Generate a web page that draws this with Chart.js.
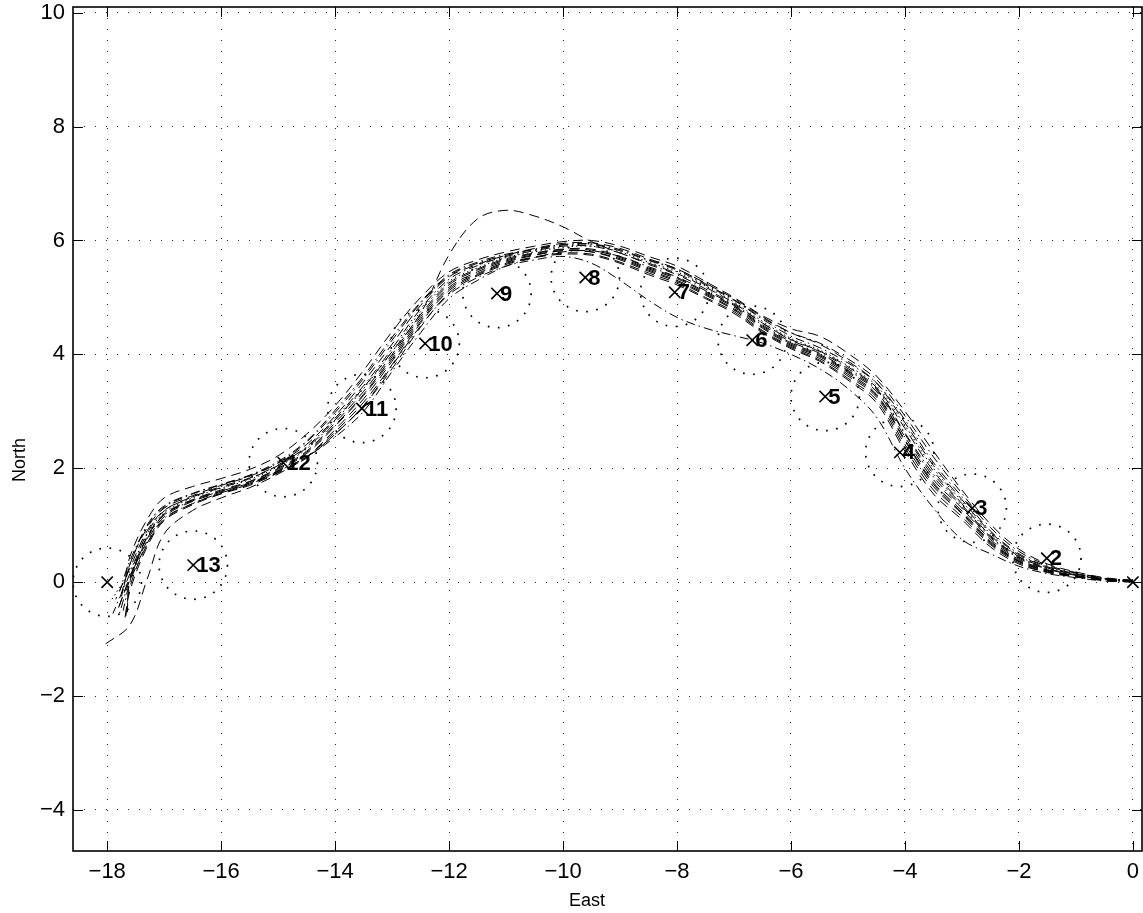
<!DOCTYPE html>
<html>
<head>
<meta charset="utf-8">
<title>East / North trajectories</title>
<script src="https://cdn.jsdelivr.net/npm/chart.js@4/dist/chart.umd.min.js"></script>
<style>
  html, body { margin: 0; padding: 0; background: #fff; overflow: hidden; }
  #wrap { position: relative; width: 1143px; height: 913px; }
</style>
</head>
<body>
<div id="wrap"><canvas id="plot"></canvas></div>
<script>
// --- data ---
const xTicks = [-18, -16, -14, -12, -10, -8, -6, -4, -2, 0];
const yTicks = [-4, -2, 0, 2, 4, 6, 8, 10];

// east positions shared by every run (last point of each run is in runEnds)
const eastGrid = [0, -0.5, -1, -1.5, -2, -2.5, -3, -3.5, -4, -4.5, -5, -5.5, -6, -6.5, -7, -7.5,
  -8, -8.5, -9, -9.5, -10, -10.5, -11, -11.5, -12, -12.5, -13, -13.5, -14, -14.5, -15, -15.5,
  -16, -16.5, -17, -17.3, -17.6];

const north01 = [0.02,0.05,0.12,0.22,0.40,0.75,1.30,1.80,2.55,3.35,3.70,4.00,4.20,4.50,4.85,5.10,5.35,5.52,5.72,5.85,5.85,5.78,5.68,5.50,5.25,4.70,4.00,3.35,2.80,2.30,2.00,1.77,1.62,1.45,1.20,0.80,0.10];
const north02 = [0.03,0.07,0.16,0.28,0.50,0.90,1.50,2.10,2.85,3.50,3.85,4.12,4.32,4.62,4.95,5.22,5.48,5.65,5.82,5.93,5.92,5.84,5.76,5.62,5.40,4.92,4.30,3.62,3.02,2.48,2.12,1.88,1.72,1.56,1.34,1.00,0.30];
const north03 = [0.01,0.03,0.09,0.17,0.32,0.62,1.10,1.55,2.30,3.15,3.55,3.88,4.10,4.38,4.72,4.98,5.22,5.40,5.60,5.74,5.76,5.70,5.58,5.38,5.08,4.48,3.75,3.10,2.60,2.18,1.92,1.70,1.55,1.36,1.08,0.62,-0.15];
const north04 = [0.02,0.06,0.14,0.25,0.45,0.82,1.38,1.95,2.70,3.42,3.78,4.06,4.26,4.55,4.90,5.18,5.42,5.60,5.78,5.98,6.24,6.43,6.53,6.38,5.75,4.72,4.05,3.42,2.85,2.36,2.05,1.82,1.66,1.50,1.26,0.90,0.25];
const north05 = [0.00,0.02,0.08,0.15,0.28,0.50,0.75,1.30,2.00,2.90,3.40,3.75,4.00,4.20,4.33,4.46,4.65,4.95,5.30,5.60,5.72,5.66,5.55,5.35,5.05,4.50,3.80,3.10,2.60,2.20,1.95,1.72,1.57,1.38,1.12,0.68,0.00];
const north06 = [0.03,0.08,0.18,0.32,0.58,1.02,1.62,2.30,3.00,3.62,4.02,4.32,4.45,4.68,5.00,5.28,5.55,5.72,5.90,6.00,5.98,5.90,5.80,5.66,5.45,5.00,4.40,3.72,3.10,2.60,2.22,1.98,1.82,1.68,1.48,1.10,0.45];
const north07 = [0.01,0.04,0.10,0.19,0.36,0.68,1.20,1.68,2.42,3.25,3.62,3.93,4.14,4.42,4.78,5.04,5.28,5.46,5.66,5.80,5.82,5.74,5.62,5.42,5.15,4.58,3.88,3.22,2.68,2.20,1.90,1.66,1.48,1.26,0.85,0.05,-0.75];
const north08 = [0.02,0.05,0.13,0.24,0.44,0.80,1.36,1.90,2.62,3.40,3.75,4.05,4.25,4.55,4.88,5.15,5.40,5.58,5.78,5.90,5.90,5.82,5.72,5.56,5.32,4.80,4.10,3.45,2.88,2.38,2.06,1.83,1.68,1.50,1.25,0.86,0.15];
const north09 = [0.01,0.04,0.11,0.20,0.37,0.70,1.22,1.72,2.48,3.28,3.65,3.96,4.16,4.46,4.80,5.06,5.30,5.48,5.68,5.80,5.82,5.75,5.64,5.45,5.18,4.62,3.92,3.28,2.74,2.26,1.96,1.74,1.58,1.42,1.15,0.72,0.02];
const north10 = [0.02,0.06,0.14,0.26,0.46,0.85,1.42,2.00,2.75,3.45,3.80,4.08,4.28,4.58,4.92,5.20,5.45,5.62,5.80,5.90,5.88,5.80,5.70,5.52,5.28,4.75,4.05,3.40,2.84,2.34,2.03,1.80,1.65,1.48,1.22,0.84,0.20];
const north11 = [0.02,0.05,0.12,0.23,0.42,0.78,1.33,1.85,2.60,3.38,3.72,4.02,4.22,4.52,4.86,5.12,5.36,5.54,5.72,5.82,5.80,5.70,5.55,5.30,4.98,4.38,3.70,3.00,2.55,2.20,1.95,1.74,1.60,1.43,1.18,0.76,0.05];
const north12 = [0.03,0.06,0.15,0.27,0.48,0.88,1.45,2.05,2.80,3.50,3.88,4.18,4.38,4.66,4.98,5.25,5.50,5.68,5.86,5.96,5.95,5.86,5.74,5.58,5.36,4.86,4.18,3.52,2.92,2.42,2.09,1.86,1.70,1.52,1.30,0.95,0.32];
const north13 = [0.02,0.04,0.11,0.21,0.38,0.72,1.25,1.75,2.50,3.30,3.68,3.98,4.18,4.48,4.83,5.08,5.33,5.50,5.70,5.83,5.84,5.77,5.66,5.48,5.22,4.66,3.96,3.30,2.76,2.28,1.98,1.76,1.60,1.44,1.18,0.78,0.08];
const north14 = [0.03,0.07,0.17,0.30,0.54,0.96,1.56,2.20,2.92,3.56,3.92,4.20,4.38,4.64,4.96,5.24,5.50,5.66,5.84,5.94,5.93,5.85,5.74,5.60,5.38,4.90,4.25,3.58,2.98,2.46,2.10,1.87,1.71,1.55,1.32,0.98,0.38];
const north15 = [0.01,0.03,0.10,0.18,0.34,0.66,1.15,1.62,2.36,3.20,3.58,3.90,4.12,4.40,4.75,5.00,5.25,5.43,5.62,5.76,5.78,5.71,5.60,5.40,5.12,4.55,3.82,3.16,2.64,2.20,1.93,1.72,1.56,1.38,1.10,0.66,-0.08];

const runNorths = [north01, north02, north03, north04, north05, north06, north07, north08,
  north09, north10, north11, north12, north13, north14, north15];
const runEnds = [[-17.8,-0.45],[-17.75,-0.2],[-17.7,-0.7],[-17.85,-0.3],[-17.72,-0.5],[-17.7,-0.05],
  [-18.05,-1.1],[-17.9,-0.55],[-17.65,-0.62],[-17.95,-0.35],[-17.8,-0.6],[-17.75,-0.25],
  [-17.82,-0.5],[-17.78,-0.15],[-17.68,-0.66]];
const runStyles = ['--', '-.', '--', '--', '-.', '--', '--', '-.', '--', ':', '-.', '--', '--', '-.', '--'];

// waypoints (x marks), their labels and the radius of the dotted circles
const markEast  = [0, -1.51, -2.82, -4.09, -5.40, -6.68, -8.04, -9.61, -11.16, -12.42, -13.53, -14.91, -16.49, -18];
const markNorth = [0, 0.42, 1.30, 2.28, 3.26, 4.25, 5.09, 5.35, 5.07, 4.19, 3.05, 2.10, 0.30, 0];
const markLabels = ['', '2', '3', '4', '5', '6', '7', '8', '9', '10', '11', '12', '13', ''];
const circleRadius = 0.6;

// --- build datasets ---
function dashFor(style) {
    if (style === '-.') return [9, 4, 1.5, 4];
    if (style === ':') return [1.5, 3];
    return [10, 6];
}

const datasets = runNorths.map((north, i) => {
    const pts = eastGrid.map((e, j) => ({ x: e, y: north[j] }));
    pts.push({ x: runEnds[i][0], y: runEnds[i][1] });
    return {
        data: pts,
        showLine: true,
        borderColor: '#000',
        borderWidth: 1,
        borderDash: dashFor(runStyles[i]),
        pointRadius: 0,
        tension: 0.35,
        fill: false
    };
});

datasets.push({
    data: markEast.map((e, i) => ({ x: e, y: markNorth[i] })),
    showLine: false,
    pointStyle: 'crossRot',
    pointRadius: 8,
    pointBorderWidth: 1.6,
    pointBorderColor: '#000',
    borderColor: '#000'
});

const fmt = v => v < 0 ? '\u2212' + Math.abs(v) : String(v);

// box, inward ticks, circles, labels, axis titles
const frame = {
    id: 'frame',
    afterDatasetsDraw(chart) {
        const { ctx, chartArea: a, scales: { x, y } } = chart;
        ctx.save();
        ctx.beginPath();
        ctx.rect(a.left, a.top, a.right - a.left, a.bottom - a.top);
        ctx.clip();
        // dotted circles round the waypoints
        const rPx = Math.abs(x.getPixelForValue(circleRadius) - x.getPixelForValue(0));
        ctx.strokeStyle = '#000';
        ctx.lineWidth = 1.7;
        ctx.setLineDash([1.7, 8.5]);
        for (let i = 1; i < markEast.length; i++) {
            ctx.beginPath();
            ctx.arc(x.getPixelForValue(markEast[i]), y.getPixelForValue(markNorth[i]), rPx, 0, Math.PI * 2);
            ctx.stroke();
        }
        ctx.setLineDash([]);
        // numbers next to the marks
        ctx.fillStyle = '#000';
        ctx.font = 'bold 22px "Liberation Sans", Arial, sans-serif';
        ctx.textAlign = 'left';
        ctx.textBaseline = 'middle';
        markLabels.forEach((t, i) => {
            if (!t) return;
            ctx.fillText(t, x.getPixelForValue(markEast[i]) + 3, y.getPixelForValue(markNorth[i]) + 1);
        });
        ctx.restore();
    },
    afterDraw(chart) {
        const { ctx, chartArea: a, scales: { x, y } } = chart;
        ctx.save();
        ctx.strokeStyle = '#000';
        ctx.lineWidth = 1;
        ctx.beginPath();
        xTicks.forEach(v => {
            const px = Math.round(x.getPixelForValue(v)) + 0.5;
            ctx.moveTo(px, a.bottom); ctx.lineTo(px, a.bottom - 10);
            ctx.moveTo(px, a.top); ctx.lineTo(px, a.top + 10);
        });
        yTicks.forEach(v => {
            const py = Math.round(y.getPixelForValue(v)) + 0.5;
            ctx.moveTo(a.left, py); ctx.lineTo(a.left + 10, py);
            ctx.moveTo(a.right, py); ctx.lineTo(a.right - 10, py);
        });
        ctx.stroke();
        ctx.lineWidth = 1.6;
        ctx.strokeRect(a.left, a.top, a.right - a.left, a.bottom - a.top);

        ctx.fillStyle = '#000';
        ctx.font = '18px "Liberation Sans", Arial, sans-serif';
        ctx.textAlign = 'center';
        ctx.textBaseline = 'middle';
        ctx.fillText('East', 587, 901);
        ctx.translate(20, 460);
        ctx.rotate(-Math.PI / 2);
        ctx.fillText('North', 0, 0);
        ctx.restore();
    }
};

const tickFont = { family: '"Liberation Sans", Arial, sans-serif', size: 22 };

new Chart(document.getElementById('plot'), {
    type: 'scatter',
    data: { datasets: datasets },
    options: {
        responsive: true,
        maintainAspectRatio: false,
        animation: false,
        layout: { autoPadding: false, padding: { top: 7, right: 1, left: 0, bottom: 0 } },
        plugins: { legend: { display: false }, tooltip: { enabled: false } },
        scales: {
            x: {
                type: 'linear',
                min: -18.6,
                max: 0.16,
                afterBuildTicks: s => { s.ticks = xTicks.map(v => ({ value: v })); },
                afterFit: s => { s.height = 62; s.paddingLeft = 0; s.paddingRight = 0; },
                grid: { color: 'rgba(0,0,0,0.85)', lineWidth: 1, drawTicks: false },
                border: { display: false, dash: [1, 10] },
                ticks: { color: '#000', font: tickFont, padding: 8, maxRotation: 0, callback: v => fmt(v) }
            },
            y: {
                type: 'linear',
                min: -4.72,
                max: 10.1,
                afterBuildTicks: s => { s.ticks = yTicks.map(v => ({ value: v })); },
                afterFit: s => { s.width = 73; s.paddingTop = 0; s.paddingBottom = 0; },
                grid: { color: 'rgba(0,0,0,0.85)', lineWidth: 1, drawTicks: false },
                border: { display: false, dash: [1, 10] },
                ticks: { color: '#000', font: tickFont, padding: 8, callback: v => fmt(v) }
            }
        }
    },
    plugins: [frame]
});
</script>
</body>
</html>
